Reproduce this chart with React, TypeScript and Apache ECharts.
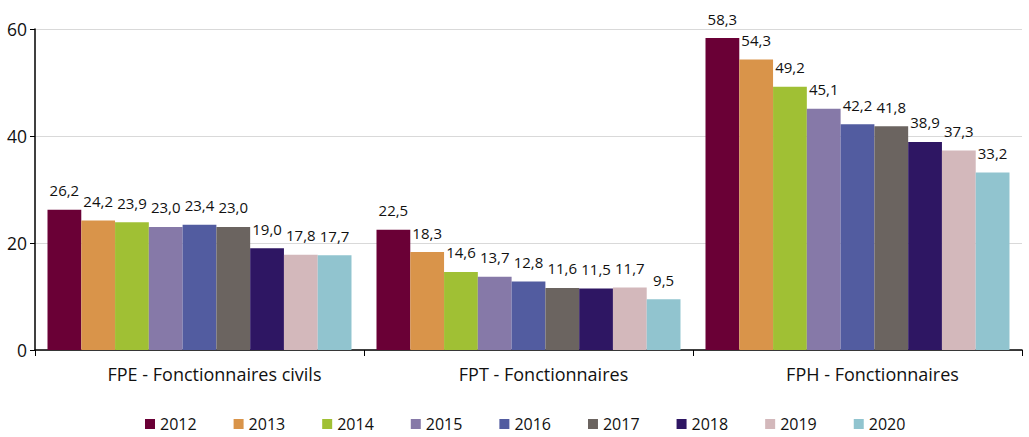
import React, { useEffect, useRef } from "react";
import * as echarts from "echarts";

const categories = ["FPE - Fonctionnaires civils", "FPT - Fonctionnaires", "FPH - Fonctionnaires"];
const years = ["2012", "2013", "2014", "2015", "2016", "2017", "2018", "2019", "2020"];
const v2012 = [26.2, 22.5, 58.3];
const v2013 = [24.2, 18.3, 54.3];
const v2014 = [23.9, 14.6, 49.2];
const v2015 = [23.0, 13.7, 45.1];
const v2016 = [23.4, 12.8, 42.2];
const v2017 = [23.0, 11.6, 41.8];
const v2018 = [19.0, 11.5, 38.9];
const v2019 = [17.8, 11.7, 37.3];
const v2020 = [17.7, 9.5, 33.2];
const seriesValues = [v2012, v2013, v2014, v2015, v2016, v2017, v2018, v2019, v2020];
const colors = ["#6a0036", "#d9944a", "#a0c034", "#8679a8", "#525ca0", "#6b6460", "#2e1663", "#d3b8bb", "#91c4cf"];
const yTicks = [0, 20, 40, 60];

const FONT = "'Open Sans', sans-serif";

export default function App() {
  const ref = useRef<HTMLDivElement>(null);
  useEffect(() => {
    if (!ref.current) return;
    const chart = echarts.init(ref.current, null, { renderer: "svg" });
    chart.setOption({
      animation: false,
      textStyle: { fontFamily: FONT },
      grid: { left: 35, right: 7, top: 29, bottom: 87 },
      legend: {
        bottom: 4,
        left: 145,
        padding: 0,
        itemWidth: 10,
        itemHeight: 10,
        itemGap: 37,
        icon: "rect",
        textStyle: { fontSize: 16, lineHeight: 18, color: "#111", fontFamily: FONT },
        data: years,
      },
      xAxis: {
        type: "category",
        data: categories,
        axisLine: { lineStyle: { color: "#000", width: 1.5 } },
        axisTick: { show: true, length: 6, lineStyle: { color: "#000" } },
        axisLabel: { fontSize: 18, color: "#111", margin: 15, fontFamily: FONT, padding: [0, 0, 0, 30] },
      },
      yAxis: {
        type: "value",
        min: yTicks[0],
        max: yTicks[yTicks.length - 1],
        interval: 20,
        axisLine: { show: true, lineStyle: { color: "#000", width: 1.5 } },
        axisTick: { show: true, length: 5, lineStyle: { color: "#000" } },
        axisLabel: { fontSize: 17.5, color: "#111", margin: 8, fontFamily: FONT },
        splitLine: { lineStyle: { color: "#d9d9d9", width: 1 } },
      },
      series: years.map((y, i) => ({
        name: y,
        type: "bar",
        data: seriesValues[i],
        barGap: "0%",
        barCategoryGap: "7.6%",
        itemStyle: { color: colors[i] },
        label: {
          show: true,
          position: "top",
          distance: 12,
          fontSize: 15,
          color: "#111",
          fontFamily: FONT,
          formatter: (p: any) => p.value.toFixed(1).replace(".", ","),
        },
      })),
    });
    return () => chart.dispose();
  }, []);
  return <div ref={ref} style={{ position: "absolute", left: 0, top: 0, width: 1029, height: 437 }} />;
}
